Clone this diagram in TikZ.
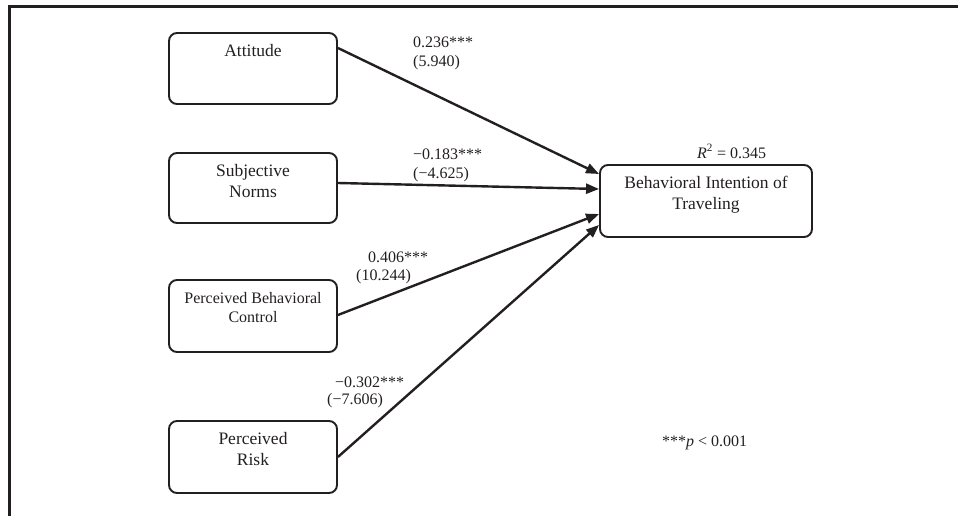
\documentclass[tikz,border=0pt]{standalone}
\usepackage{fontspec}
\setmainfont{Liberation Serif}
\usetikzlibrary{arrows.meta}
\definecolor{ink}{RGB}{35,31,32}
\tikzset{
  box/.style={draw=ink, line width=1.9pt, rounded corners=8pt, inner sep=0pt},
  boxtext/.style={font=\fontsize{17.5}{21}\selectfont, text=ink, align=center, anchor=base, inner sep=0pt},
  smalltext/.style={font=\fontsize{16}{18.5}\selectfont, text=ink, align=center, anchor=base, inner sep=0pt},
  lab/.style={font=\fontsize{16}{19}\selectfont, text=ink, anchor=base west, inner sep=0pt},
  arr/.style={draw=ink, line width=2.4pt, -{Triangle[length=13pt,width=10pt]}},
  frameline/.style={draw=ink, line width=3.2pt}
}
\begin{document}
\begin{tikzpicture}[x=1pt,y=-1pt]
\useasboundingbox (0,0) rectangle (958,516);
% frame
\coordinate (fbl) at (9.5,516);
\coordinate (ftl) at (9.5,6.5);
\coordinate (ftr) at (958,6.5);
\draw[frameline] (fbl) -- (ftl) -- (ftr);
% boxes
\node[box, minimum width=168pt, minimum height=71pt] (att) at (253,68.5) {};
\node[box, minimum width=168pt, minimum height=70pt] (sub) at (253,188) {};
\node[box, minimum width=168pt, minimum height=72pt] (pbc) at (253,316) {};
\node[box, minimum width=168pt, minimum height=72pt] (risk) at (253,457) {};
\node[box, minimum width=212pt, minimum height=72pt] (bit) at (706,201) {};
% box texts (base anchor = baseline of last line)
\node[boxtext] (attt) at (253,57) {Attitude};
\node[boxtext] (subt) at (253,197) {Subjective\\Norms};
\node[smalltext] (pbct) at (253,322) {Perceived Behavioral\\Control};
\node[boxtext] (riskt) at (253,465) {Perceived\\Risk};
\node[boxtext] (bitt) at (706,209) {Behavioral Intention of\\Traveling};
% arrows
\draw[arr] ([yshift=20.5pt]att.east) -- ([yshift=27pt]bit.west);
\draw[arr] ([yshift=5pt]sub.east) -- ([yshift=12pt]bit.west);
\draw[arr] ([yshift=1pt]pbc.east) -- ([yshift=-13pt]bit.west);
\draw[arr] (risk.east) -- ([yshift=-24pt]bit.west);
% path labels
\node[lab] (l1a) at (413,48) {0.236***};
\node[lab] (l1b) at (413,67) {(5.940)};
\node[lab] (l2a) at (413,159) {−0.183***};
\node[lab] (l2b) at (413,178) {(−4.625)};
\node[lab] (l3a) at (368,262) {0.406***};
\node[lab] (l3b) at (356,280) {(10.244)};
\node[lab] (l4a) at (335,387) {−0.302***};
\node[lab] (l4b) at (327,404) {(−7.606)};
% R squared
\node[lab] (r2) at (697,158) {\textit{R}\textsuperscript{2} = 0.345};
% note
\node[lab] (note) at (662,446) {***\textit{p} < 0.001};
\end{tikzpicture}
\end{document}
